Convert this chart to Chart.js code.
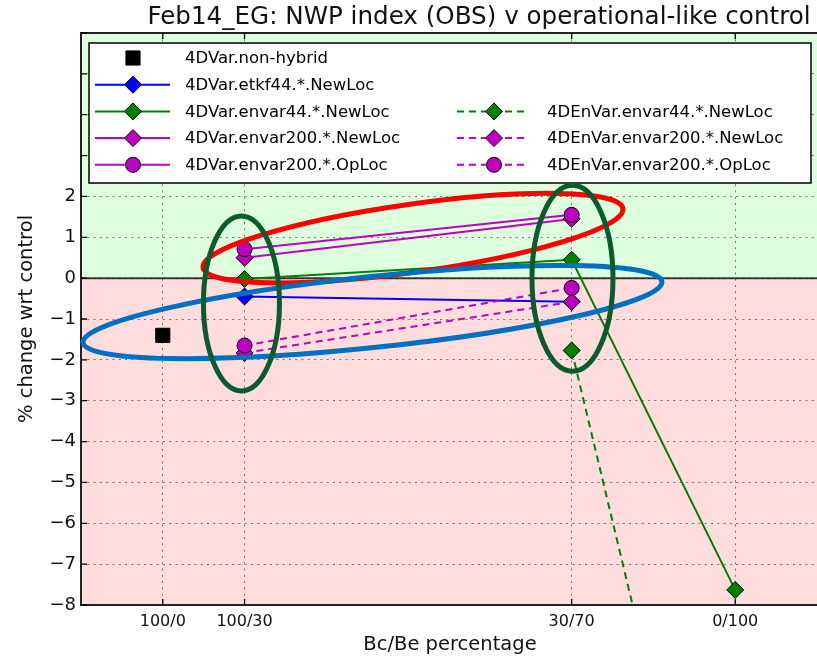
<!DOCTYPE html>
<html><head><meta charset="utf-8">
<script src="https://cdn.jsdelivr.net/npm/chart.js@4.4.0/dist/chart.umd.min.js"></script>
<style>html,body{margin:0;padding:0;background:#fff;overflow:hidden}#wrap{width:817px;height:658px;overflow:hidden}</style>
</head><body>
<div id="wrap"><canvas id="c" width="830" height="658"></canvas></div>
<script>
// ---- data ----
const categories = ['100/0', '100/30', '30/70', '0/100'];
const xPositions = [0, 1, 5, 7];
const yTickValues = [-8, -7, -6, -5, -4, -3, -2, -1, 0, 1, 2, 3, 4, 5, 6];
const yTickMaxLabel = 2;
const seriesNames = [
  '4DVar.non-hybrid', '4DVar.etkf44.*.NewLoc', '4DVar.envar44.*.NewLoc',
  '4DVar.envar200.*.NewLoc', '4DVar.envar200.*.OpLoc',
  '4DEnVar.envar44.*.NewLoc', '4DEnVar.envar200.*.NewLoc', '4DEnVar.envar200.*.OpLoc'
];
const nonHybrid     = [-1.40, null, null, null];
const etkf44New     = [null, -0.45, -0.58, null];
const envar44New    = [null, -0.02, 0.45, -7.63];
const envar200New   = [null, 0.50, 1.45, null];
const envar200Op    = [null, 0.71, 1.55, null];
const enEnvar44New  = [null, null, -1.77, -18.5];
const enEnvar200New = [null, -1.83, -0.58, null];
const enEnvar200Op  = [null, -1.65, -0.24, null];
const seriesValues = [nonHybrid, etkf44New, envar44New, envar200New, envar200Op, enEnvar44New, enEnvar200New, enEnvar200Op];
const titleText = 'Feb14_EG: NWP index (OBS) v operational-like control';
const xTitle = 'Bc/Be percentage';
const yTitle = '% change wrt control';
const X_MIN = -1, X_MAX_VISIBLE = 8, Y_MIN = -8, Y_MAX = 6;

// ---- styles ----
const VIEW_W = 817;
const FONT = '"DejaVu Sans", "Bitstream Vera Sans", sans-serif';
const BLUE = '#0000ff', GREEN = '#008000', MAG = '#bf00bf';
const styles = [
  {color: '#000000', marker: 'square', line: false, dash: []},
  {color: BLUE, marker: 'diamond', line: true, dash: []},
  {color: GREEN, marker: 'diamond', line: true, dash: []},
  {color: MAG, marker: 'diamond', line: true, dash: []},
  {color: MAG, marker: 'circle', line: true, dash: []},
  {color: GREEN, marker: 'diamond', line: true, dash: [7, 5]},
  {color: MAG, marker: 'diamond', line: true, dash: [7, 5]},
  {color: MAG, marker: 'circle', line: true, dash: [7, 5]}
];
const markerMap = {square: ['rect', 10], diamond: ['rectRot', 8.5], circle: ['circle', 7.5]};
// legend layout: [column, row]
const legendSlots = [[0,0],[0,1],[0,2],[0,3],[0,4],[1,2],[1,3],[1,4]];
// hand-drawn highlight ellipses (centre in data units, radii in px)
const ellipses = [
  {cx: 3.06, cy: 0.98, rx: 212, ry: 34, rot: -8, color: '#ff0000'},
  {cx: 2.564, cy: -0.83, rx: 291, ry: 35.5, rot: -6, color: '#0070c0'},
  {cx: 0.962, cy: -0.62, rx: 38, ry: 87.5, rot: 0, color: '#0b5c2c'},
  {cx: 5.01, cy: 0.0, rx: 40.5, ry: 93, rot: 0, color: '#0b5c2c'}
];

const toPts = vals => vals.map((v, i) => v === null ? null : {x: xPositions[i], y: v}).filter(p => p);

const datasets = seriesNames.map((name, i) => {
  const s = styles[i];
  const [ps, r] = markerMap[s.marker];
  return {
    label: name,
    data: toPts(seriesValues[i]),
    showLine: s.line,
    borderColor: s.color,
    backgroundColor: s.color,
    borderWidth: 2,
    borderDash: s.dash,
    pointStyle: ps,
    pointRadius: r,
    pointHoverRadius: r,
    pointBackgroundColor: s.color,
    pointBorderColor: '#000000',
    pointBorderWidth: 1,
    tension: 0,
    order: -i
  };
});

function drawMarker(ctx, kind, color, x, y) {
  const [ps, r] = markerMap[kind];
  ctx.save();
  ctx.fillStyle = color; ctx.strokeStyle = '#000'; ctx.lineWidth = 1; ctx.setLineDash([]);
  ctx.beginPath();
  if (ps === 'rect') { const h = r * Math.SQRT1_2; ctx.rect(x - h, y - h, 2 * h, 2 * h); }
  else if (ps === 'rectRot') { ctx.moveTo(x - r, y); ctx.lineTo(x, y - r); ctx.lineTo(x + r, y); ctx.lineTo(x, y + r); ctx.closePath(); }
  else { ctx.arc(x, y, r, 0, Math.PI * 2); }
  ctx.fill(); ctx.stroke();
  ctx.restore();
}

const decor = {
  id: 'decor',
  beforeDraw(chart) {
    const {ctx, chartArea: a, scales: {y}} = chart;
    const y0 = y.getPixelForValue(0);
    ctx.save();
    ctx.fillStyle = '#ddffdd'; ctx.fillRect(a.left, a.top, a.right - a.left, y0 - a.top);
    ctx.fillStyle = '#ffdddd'; ctx.fillRect(a.left, y0, a.right - a.left, a.bottom - y0);
    ctx.restore();
  },
  beforeDatasetsDraw(chart) {
    const {ctx, chartArea: a, scales: {y}} = chart;
    const y0 = y.getPixelForValue(0);
    ctx.save();
    ctx.strokeStyle = 'rgba(0,0,0,0.75)'; ctx.lineWidth = 2;
    ctx.beginPath(); ctx.moveTo(a.left, y0); ctx.lineTo(a.right, y0); ctx.stroke();
    ctx.restore();
  },
  afterDatasetsDraw(chart) {
    const {ctx, chartArea: a, scales: {x, y}} = chart;
    ctx.save();
    // frame
    ctx.strokeStyle = '#222'; ctx.lineWidth = 2; ctx.setLineDash([]);
    ctx.beginPath();
    ctx.moveTo(a.right + 2, a.top); ctx.lineTo(a.left, a.top); ctx.lineTo(a.left, a.bottom); ctx.lineTo(a.right + 2, a.bottom);
    ctx.stroke();
    // inner ticks
    ctx.lineWidth = 1.3; ctx.strokeStyle = '#000';
    ctx.beginPath();
    yTickValues.forEach(v => { const py = y.getPixelForValue(v); ctx.moveTo(a.left, py); ctx.lineTo(a.left + 6, py); });
    xPositions.forEach(v => { const px = x.getPixelForValue(v); ctx.moveTo(px, a.bottom); ctx.lineTo(px, a.bottom - 6); ctx.moveTo(px, a.top); ctx.lineTo(px, a.top + 6); });
    ctx.stroke();
    // legend
    const L = {left: a.left + 8, top: a.top + 10, right: a.left + 730, bottom: a.top + 150};
    ctx.fillStyle = '#fff'; ctx.fillRect(L.left, L.top, L.right - L.left, L.bottom - L.top);
    ctx.strokeStyle = '#000'; ctx.lineWidth = 1.5;
    ctx.strokeRect(L.left, L.top, L.right - L.left, L.bottom - L.top);
    const cols = [{l0: 6, l1: 81, m: 44, t: 96}, {l0: 368, l1: 439, m: 405, t: 458}];
    ctx.font = '16.5px ' + FONT; ctx.textBaseline = 'middle'; ctx.textAlign = 'left';
    seriesNames.forEach((name, i) => {
      const [c, r] = legendSlots[i];
      const col = cols[c], s = styles[i];
      const ry = L.top + 15 + r * 26.7;
      if (s.line) {
        ctx.save(); ctx.strokeStyle = s.color; ctx.lineWidth = 2; ctx.setLineDash(s.dash);
        ctx.beginPath(); ctx.moveTo(L.left + col.l0, ry); ctx.lineTo(L.left + col.l1, ry); ctx.stroke(); ctx.restore();
      }
      drawMarker(ctx, s.marker, s.color, L.left + col.m, ry);
      ctx.fillStyle = '#000';
      ctx.fillText(name, L.left + col.t, ry + 1);
    });
    // highlight ellipses
    ellipses.forEach(e => {
      ctx.strokeStyle = e.color; ctx.lineWidth = 5; ctx.setLineDash([]);
      ctx.beginPath();
      ctx.ellipse(x.getPixelForValue(e.cx), y.getPixelForValue(e.cy), e.rx, e.ry, e.rot * Math.PI / 180, 0, Math.PI * 2);
      ctx.stroke();
    });
    // title
    ctx.fillStyle = '#111'; ctx.font = '24.6px ' + FONT; ctx.textAlign = 'center'; ctx.textBaseline = 'middle';
    ctx.fillText(titleText, a.left + 398, 18);
    ctx.restore();
  }
};

const fmt = v => v < 0 ? '\u2212' + Math.abs(v) : String(v);

const chart = new Chart(document.getElementById('c'), {
  type: 'line',
  data: {datasets},
  options: {
    responsive: false, maintainAspectRatio: false, animation: false, devicePixelRatio: 1,
    layout: {padding: {top: 33, left: 0, right: 0, bottom: 0}},
    plugins: {legend: {display: false}, title: {display: false}, tooltip: {enabled: false}},
    events: [],
    scales: {
      x: {
        type: 'linear', min: X_MIN, max: X_MAX_VISIBLE,
        afterBuildTicks: s => { s.ticks = xPositions.map(v => ({value: v})); },
        afterFit: s => { s.height = 53; s.paddingLeft = 0; s.paddingRight = 0; },
        ticks: {autoSkip: false, maxRotation: 0, padding: 7, color: '#111', font: {family: FONT, size: 16},
          callback: v => categories[xPositions.indexOf(v)]},
        grid: {drawTicks: false, color: 'rgba(0,0,0,0.5)', lineWidth: 1},
        border: {display: false, dash: [2, 4.3]},
        title: {display: true, text: xTitle, color: '#111', font: {family: FONT, size: 19.5}, padding: {top: 0, bottom: 1}}
      },
      y: {
        type: 'linear', min: Y_MIN, max: Y_MAX,
        afterBuildTicks: s => { s.ticks = yTickValues.map(v => ({value: v})); },
        afterFit: s => { s.width = 81; s.paddingTop = 0; s.paddingBottom = 0; },
        ticks: {autoSkip: false, padding: 5, color: '#111', font: {family: FONT, size: 18},
          callback: v => v <= yTickMaxLabel ? fmt(v) : ''},
        grid: {drawTicks: false, color: 'rgba(0,0,0,0.5)', lineWidth: 1},
        border: {display: false, dash: [2, 4.3]},
        title: {display: true, text: yTitle, color: '#111', font: {family: FONT, size: 19.5}, padding: {top: 15, bottom: 0}}
      }
    }
  },
  plugins: [decor]
});
// extend the x range so that X_MAX_VISIBLE sits exactly at the visible right edge
(function () {
  const a = chart.chartArea;
  const unit = (VIEW_W - a.left) / (X_MAX_VISIBLE - X_MIN);
  chart.options.scales.x.max = X_MIN + (a.right - a.left) / unit;
  chart.update();
})();
</script>
</body></html>
